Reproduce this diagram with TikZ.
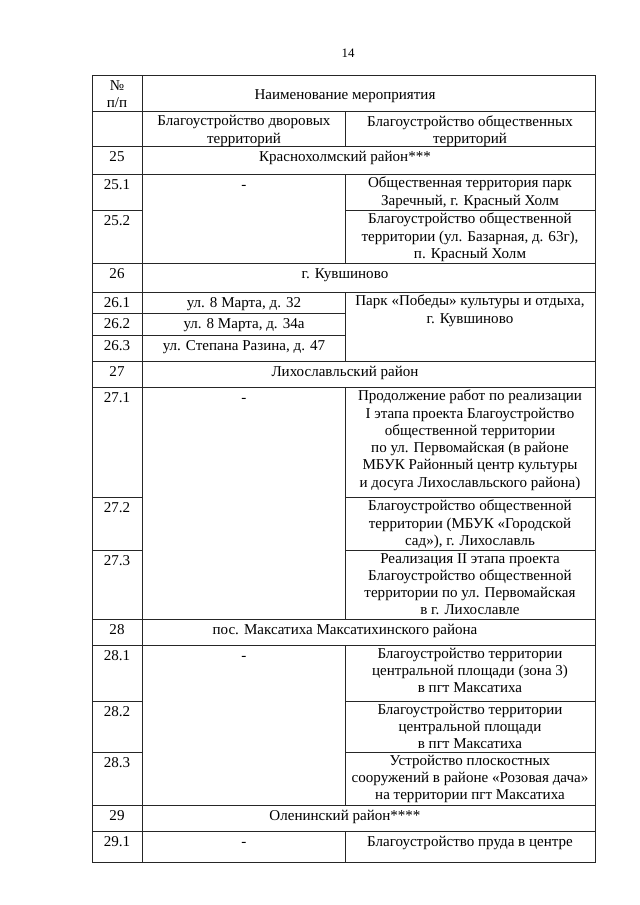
\documentclass[tikz,border=0pt]{standalone}
\usepackage{fontspec}
\setmainfont{Liberation Serif}
\usetikzlibrary{positioning}

\begin{document}
\begin{tikzpicture}[x=0.93pt, y=-0.93pt,
    rule/.style={line width=0.7pt, black!85},
    head/.style={anchor=center, align=center, inner sep=0pt, font=\fontsize{14}{16}\selectfont},
    cell/.style={anchor=north, align=center, inner sep=0pt, font=\fontsize{14}{16}\selectfont,
      execute at begin node=\strut}]
  \useasboundingbox (0,0) rectangle (640,905);
  \node[font=\fontsize{12}{14}\selectfont] (page) at (348,53) {14};

  \draw[rule] (92,75) rectangle (595,862);
  \draw[rule] (142,75) -- (142,862);
  \foreach \y in {111,146,174,263,292,361,387,619,645,805,831}
    \draw[rule] (92,\y) -- (595,\y);
  \foreach \y in {210,497,550,701,752}{
    \draw[rule] (92,\y) -- (142,\y);
    \draw[rule] (345,\y) -- (595,\y);
  }
  \foreach \y in {313,335}
    \draw[rule] (92,\y) -- (345,\y);
  \foreach \a/\b in {111/146,174/263,292/361,387/619,645/805,831/862}
    \draw[rule] (345,\a) -- (345,\b);

  \node[head] (nohead) at (117,94) {№\\п/п};
  \node[head] (title) at (345,96) {Наименование мероприятия};
  \node[head] (yardhead) at (244,131) {Благоустройство дворовых\\территорий};
  \node[head] (pubhead) at (470,131) {Благоустройство общественных\\территорий};

  \foreach \t/\y/\nm in {25/149/n25, 25.1/177/n251, 25.2/213/n252, 26/266/n26,
      26.1/295/n261, 26.2/316/n262, 26.3/338/n263, 27/364/n27, 27.1/390/n271,
      27.2/500/n272, 27.3/553/n273, 28/622/n28, 28.1/648/n281, 28.2/704/n282,
      28.3/755/n283, 29/808/n29, 29.1/834/n291}
    \node[cell] (\nm) at (117,\y) {\t};

  \node[cell] (s25) at (345,149) {Краснохолмский район***};
  \node[cell] (s26) at (345,266) {г. Кувшиново};
  \node[cell] (s27) at (345,364) {Лихославльский район};
  \node[cell] (s28) at (345,622) {пос. Максатиха Максатихинского района};
  \node[cell] (s29) at (345,808) {Оленинский район****};

  \foreach \y/\nm in {177/y251, 390/y271, 648/y281, 834/y291}
    \node[cell] (\nm) at (244,\y) {-};
  \node[cell] (y261) at (244,295) {ул. 8 Марта, д. 32};
  \node[cell] (y262) at (244,316) {ул. 8 Марта, д. 34а};
  \node[cell] (y263) at (244,338) {ул. Степана Разина, д. 47};

  \node[cell] (p251) at (470,177) {Общественная территория парк\\Заречный, г. Красный Холм};
  \node[cell] (p252) at (470,213) {Благоустройство общественной\\территории (ул. Базарная, д. 63г),\\п. Красный Холм};
  \node[cell] (p261) at (470,295) {Парк «Победы» культуры и отдыха,\\г. Кувшиново};
  \node[cell] (p271) at (470,390) {Продолжение работ по реализации\\I этапа проекта Благоустройство\\общественной территории\\по ул. Первомайская (в районе\\МБУК Районный центр культуры\\и досуга Лихославльского района)};
  \node[cell] (p272) at (470,500) {Благоустройство общественной\\территории (МБУК «Городской\\сад»), г. Лихославль};
  \node[cell] (p273) at (470,553) {Реализация II этапа проекта\\Благоустройство общественной\\территории по ул. Первомайская\\в г. Лихославле};
  \node[cell] (p281) at (470,648) {Благоустройство территории\\центральной площади (зона 3)\\в пгт Максатиха};
  \node[cell] (p282) at (470,704) {Благоустройство территории\\центральной площади\\в пгт Максатиха};
  \node[cell] (p283) at (470,755) {Устройство плоскостных\\сооружений в районе «Розовая дача»\\на территории пгт Максатиха};
  \node[cell] (p291) at (470,834) {Благоустройство пруда в центре};
\end{tikzpicture}
\end{document}
